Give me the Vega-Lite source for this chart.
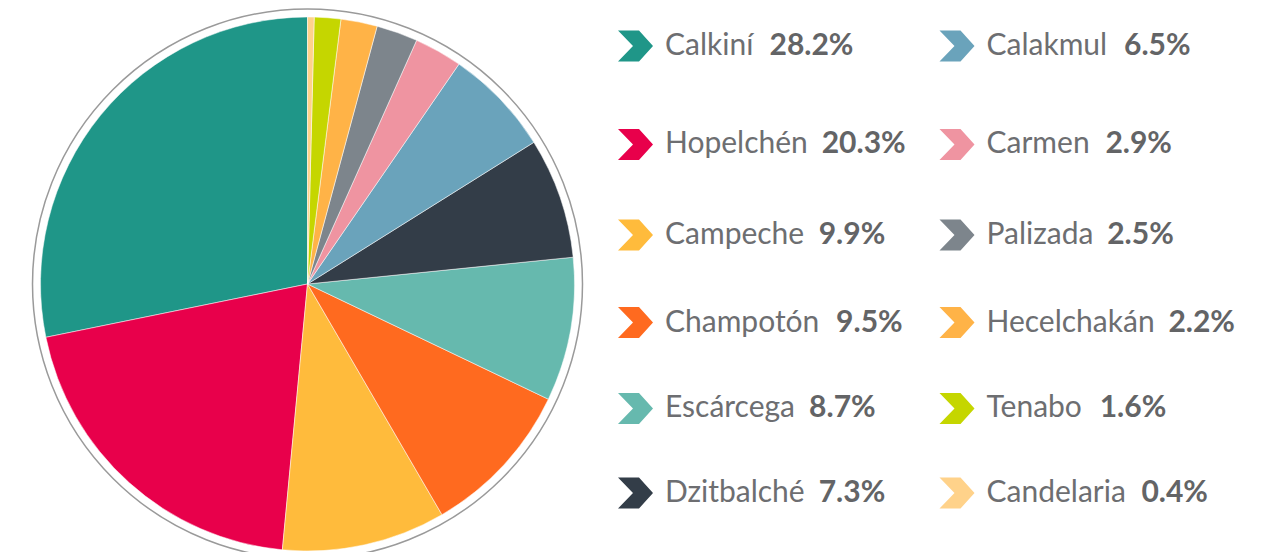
{
  "$schema": "https://vega.github.io/schema/vega-lite/v6.json",
  "padding": 0,
  "spacing": 0,
  "background": "white",
  "config": {"view": {"stroke": null}, "font": "Lato"},
  "data": {"values": [
    {"i": 0, "name": "Calkiní", "v": 0.282},
    {"i": 1, "name": "Hopelchén", "v": 0.203},
    {"i": 2, "name": "Campeche", "v": 0.099},
    {"i": 3, "name": "Champotón", "v": 0.095},
    {"i": 4, "name": "Escárcega", "v": 0.087},
    {"i": 5, "name": "Dzitbalché", "v": 0.073},
    {"i": 6, "name": "Calakmul", "v": 0.065},
    {"i": 7, "name": "Carmen", "v": 0.029},
    {"i": 8, "name": "Palizada", "v": 0.025},
    {"i": 9, "name": "Hecelchakán", "v": 0.022},
    {"i": 10, "name": "Tenabo", "v": 0.016},
    {"i": 11, "name": "Candelaria", "v": 0.004}
  ]},
  "hconcat": [
    {
      "width": 615,
      "height": 568,
      "layer": [
        {
          "mark": {"type": "arc", "radius": 267, "stroke": "white", "strokeWidth": 0.5},
          "encoding": {
            "theta": {"field": "v", "type": "quantitative", "stack": true},
            "order": {"field": "i", "type": "quantitative", "sort": "descending"},
            "color": {"field": "name", "type": "nominal", "legend": null,
              "scale": {
                "domain": ["Calkiní","Hopelchén","Campeche","Champotón","Escárcega","Dzitbalché","Calakmul","Carmen","Palizada","Hecelchakán","Tenabo","Candelaria"],
                "range": ["#1f9688","#e8004b","#ffbb3c","#ff6a1f","#66b9ae","#333d48","#6aa3bb","#ef94a1","#7d858c","#ffb347","#c5d600","#ffd28a"]
              }}
          }
        },
        {
          "data": {"values": [{}]},
          "mark": {"type": "arc", "radius": 275, "theta": 0, "theta2": 6.2832, "fill": null, "stroke": "#9a9a9a", "strokeWidth": 1.5},
          "encoding": {}
        }
      ]
    },
    {
      "width": 650,
      "height": 568,
      "transform": [
        {"calculate": "floor(datum.i / 6)", "as": "col"},
        {"calculate": "datum.i % 6", "as": "row"}
      ],
      "encoding": {
        "x": {"field": "col", "type": "quantitative", "axis": null, "scale": {"domain": [0, 1], "range": [20.5, 342], "zero": false, "nice": false}},
        "y": {"field": "row", "type": "quantitative", "axis": null, "scale": {"type": "pow", "exponent": 0.94, "domain": [0, 5], "range": [46, 493], "zero": false, "nice": false}}
      },
      "layer": [
        {
          "mark": {"type": "point", "shape": "M-1,-0.886L0.2,-0.886L1,0L0.2,0.886L-1,0.886L-0.143,0Z", "size": 1225, "filled": true, "opacity": 1, "strokeWidth": 0},
          "encoding": {
            "color": {"field": "name", "type": "nominal", "legend": null,
              "scale": {
                "domain": ["Calkiní","Hopelchén","Campeche","Champotón","Escárcega","Dzitbalché","Calakmul","Carmen","Palizada","Hecelchakán","Tenabo","Candelaria"],
                "range": ["#1f9688","#e8004b","#ffbb3c","#ff6a1f","#66b9ae","#333d48","#6aa3bb","#ef94a1","#7d858c","#ffb347","#c5d600","#ffd28a"]
              }}
          }
        },
        {
          "mark": {"type": "text", "align": "left", "baseline": "middle", "dx": 29.5, "fontSize": 30, "font": "Lato", "color": "#6d6e71"},
          "encoding": {"text": {"field": "name", "type": "nominal"}}
        },
        {
          "mark": {"type": "text", "align": "left", "baseline": "middle", "fontSize": 30, "font": "Lato", "fontWeight": "bold", "color": "#636466",
            "dx": {"expr": "45.5 + 30*(0.53*length(datum.name) - 0.29*(length(datum.name)-length(replace(datum.name, regexp('[ilíj]','g'), ''))) - 0.17*(length(datum.name)-length(replace(datum.name, regexp('[rtf]','g'), ''))) - 0.11*(length(datum.name)-length(replace(datum.name, regexp('[sz]','g'), ''))) - 0.07*(length(datum.name)-length(replace(datum.name, regexp('c','g'), ''))) - 0.03*(length(datum.name)-length(replace(datum.name, regexp('[aáeékg]','g'), ''))) + 0.03*(length(datum.name)-length(replace(datum.name, regexp('[bdhnoópqu]','g'), ''))) + 0.31*(length(datum.name)-length(replace(datum.name, regexp('m','g'), ''))) + 0.14*(length(datum.name)-length(replace(datum.name, regexp('C','g'), ''))) + 0.22*(length(datum.name)-length(replace(datum.name, regexp('[DH]','g'), ''))) + 0.04*(length(datum.name)-length(replace(datum.name, regexp('E','g'), ''))) + 0.03*(length(datum.name)-length(replace(datum.name, regexp('T','g'), ''))))"}},
          "encoding": {"text": {"field": "v", "type": "quantitative", "format": ".1%"}}
        }
      ]
    }
  ]
}
